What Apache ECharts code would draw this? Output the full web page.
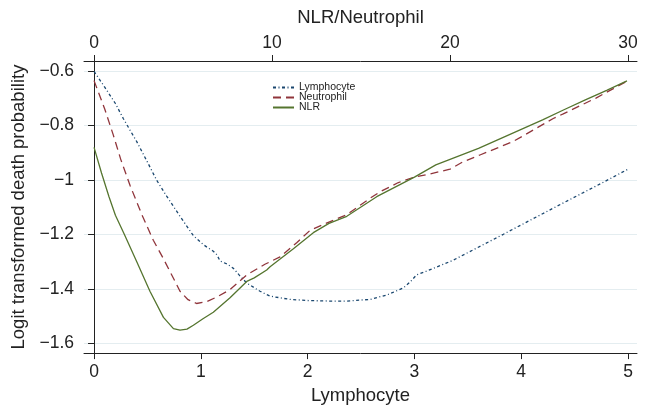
<!DOCTYPE html>
<html><head><meta charset="utf-8">
<script src="https://cdn.jsdelivr.net/npm/echarts@6/dist/echarts.min.js"></script>
<style>html,body{margin:0;padding:0;background:#fff}#c{width:648px;height:410px}</style>
</head><body><div id="c"></div>
<script>
// Tick labels
const lymphTicks = [0, 1, 2, 3, 4, 5];
const nlrTicks = [0, 10, 20, 30];
const yTicks = [-1.6, -1.4, -1.2, -1, -0.8, -0.6];

// Lymphocyte (bottom axis, Lymphocyte units)
const lymphocyteX = [0, 0.1, 0.2, 0.275, 0.4, 0.5, 0.587, 0.68, 0.805, 0.93, 1.024, 1.06, 1.117, 1.15, 1.18, 1.25, 1.305, 1.36, 1.43, 1.554, 1.648, 1.835, 2.0, 2.2, 2.366, 2.584, 2.74, 2.896, 2.96, 3.02, 3.115, 3.364, 3.832, 4.3, 4.769, 5.0];
const lymphocyteY = [-0.602, -0.66, -0.72, -0.776, -0.86, -0.935, -1.002, -1.06, -1.134, -1.205, -1.238, -1.248, -1.262, -1.275, -1.298, -1.31, -1.325, -1.35, -1.379, -1.409, -1.427, -1.439, -1.443, -1.445, -1.445, -1.439, -1.423, -1.397, -1.375, -1.349, -1.335, -1.295, -1.2, -1.104, -1.009, -0.961];

// Neutrophil (top axis, NLR/Neutrophil units)
const neutrophilX = [0, 0.6, 1.08, 1.5, 2.02, 2.7, 3.33, 3.9, 4.27, 4.83, 5.28, 5.76, 6.33, 6.9, 7.64, 8.58, 9.6, 10.45, 11.4, 12.13, 13.2, 14.2, 15.5, 16.07, 17.1, 17.94, 18.9, 20.0, 20.7, 21.68, 23.56, 25.8, 26.36, 28.2, 29.94];
const neutrophilY = [-0.636, -0.74, -0.835, -0.925, -1.02, -1.13, -1.222, -1.29, -1.337, -1.409, -1.44, -1.454, -1.447, -1.43, -1.403, -1.349, -1.31, -1.283, -1.23, -1.186, -1.155, -1.128, -1.068, -1.044, -1.01, -0.991, -0.978, -0.961, -0.935, -0.909, -0.859, -0.775, -0.758, -0.70, -0.638];

// NLR (top axis, NLR/Neutrophil units)
const nlrX = [0, 0.42, 0.84, 1.2, 1.7, 2.4, 3.14, 3.9, 4.46, 4.83, 5.22, 5.58, 6.12, 6.7, 7.64, 8.58, 9.0, 9.7, 9.89, 11.2, 12.32, 13.2, 14.2, 15.88, 18.0, 19.2, 20.4, 21.6, 22.8, 24.0, 25.2, 26.4, 27.6, 28.8, 29.94];
const nlrY = [-0.881, -0.975, -1.062, -1.13, -1.2, -1.301, -1.409, -1.505, -1.546, -1.552, -1.548, -1.534, -1.51, -1.486, -1.433, -1.373, -1.36, -1.331, -1.319, -1.253, -1.194, -1.16, -1.134, -1.062, -0.99, -0.945, -0.915, -0.885, -0.85, -0.815, -0.78, -0.743, -0.707, -0.672, -0.637];

const zip = (xs, ys) => xs.map((x, i) => [x, ys[i]]);
const FONT = 'Liberation Sans, Arial, Helvetica, sans-serif';
const AX = '#222';
const fmtY = v => {
  const r = Math.round(v * 10) / 10;
  const s = (r === -1 ? '1' : Math.abs(r).toFixed(1));
  return (r < 0 ? '\u2212' : '') + s;
};

const chart = echarts.init(document.getElementById('c'), null, {renderer: 'canvas'});
chart.setOption({
  animation: false,
  backgroundColor: '#fff',
  grid: {left: 84, right: 11, top: 61, bottom: 50, containLabel: false},
  legend: {
    orient: 'vertical', left: 267, top: 77,
    itemWidth: 21, itemHeight: 8, itemGap: -1,
    itemStyle: {opacity: 0},
    textStyle: {fontSize: 10.5, fontFamily: FONT, color: '#222', lineHeight: 8},
    data: ['Lymphocyte', 'Neutrophil', 'NLR']
  },
  xAxis: [{
    type: 'value', position: 'bottom', min: -0.094, max: 5.084,
    name: 'Lymphocyte', nameLocation: 'middle', nameGap: 29,
    nameTextStyle: {fontSize: 18.5, fontFamily: FONT, color: '#222'},
    axisLine: {show: true, lineStyle: {color: AX, width: 1}},
    axisTick: {show: true, inside: false, length: 6, customValues: lymphTicks, lineStyle: {color: AX}},
    axisLabel: {customValues: lymphTicks, fontSize: 17.5, fontFamily: FONT, color: '#222', margin: 10},
    splitLine: {show: false}
  }, {
    type: 'value', position: 'top', min: -0.564, max: 30.504,
    name: 'NLR/Neutrophil', nameLocation: 'middle', nameGap: 34,
    nameTextStyle: {fontSize: 18.5, fontFamily: FONT, color: '#222'},
    axisLine: {show: true, lineStyle: {color: AX, width: 1}},
    axisTick: {show: true, inside: false, length: 6, customValues: nlrTicks, lineStyle: {color: AX}},
    axisLabel: {customValues: nlrTicks, fontSize: 17.5, fontFamily: FONT, color: '#222', margin: 9},
    splitLine: {show: false}
  }],
  yAxis: {
    type: 'value', min: -1.636, max: -0.564,
    name: 'Logit transformed death probability', nameLocation: 'middle', nameGap: 52,
    nameTextStyle: {fontSize: 18.5, fontFamily: FONT, color: '#222'},
    axisLine: {show: true, lineStyle: {color: AX, width: 1}},
    axisTick: {show: true, inside: false, length: 6, customValues: yTicks, lineStyle: {color: AX}},
    axisLabel: {customValues: yTicks, fontSize: 17.5, fontFamily: FONT, color: '#222', margin: 10, formatter: fmtY},
    splitLine: {show: true, lineStyle: {color: '#e4edf0', width: 1.2}}
  },
  series: [{
    name: 'Lymphocyte', type: 'line', xAxisIndex: 0, symbol: 'none',
    data: zip(lymphocyteX, lymphocyteY),
    lineStyle: {color: '#1a476f', width: 1.3, type: [3, 2.5, 1, 2.5]},
    itemStyle: {color: '#1a476f'}
  }, {
    name: 'Neutrophil', type: 'line', xAxisIndex: 1, symbol: 'none',
    data: zip(neutrophilX, neutrophilY),
    lineStyle: {color: '#90353b', width: 1.3, type: [8, 5]},
    itemStyle: {color: '#90353b'}
  }, {
    name: 'NLR', type: 'line', xAxisIndex: 1, symbol: 'none',
    data: zip(nlrX, nlrY),
    lineStyle: {color: '#55752f', width: 1.3, type: 'solid'},
    itemStyle: {color: '#55752f'}
  }]
});
</script></body></html>
